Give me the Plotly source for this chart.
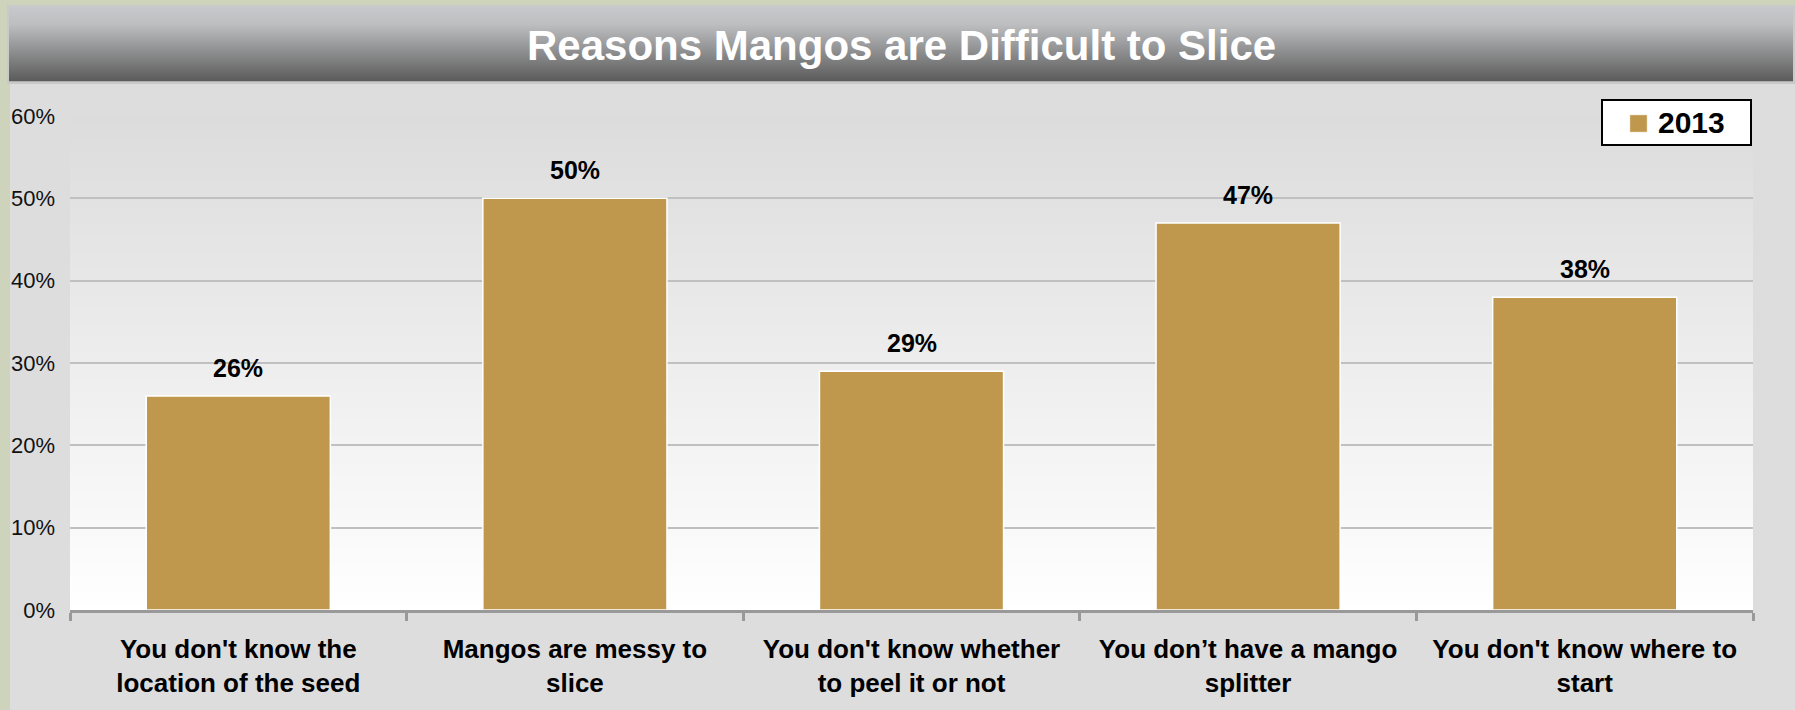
import plotly.graph_objects as go

# ---- data ----
categories = [
    "You don't know the<br>location of the seed",
    "Mangos are messy to<br>slice",
    "You don't know whether<br>to peel it or not",
    "You don\u2019t have a mango<br>splitter",
    "You don't know where to<br>start",
]
values_2013 = [26, 50, 29, 47, 38]
series_name = "2013"
title_text = "Reasons Mangos are Difficult to Slice"
y_ticks = [0, 10, 20, 30, 40, 50, 60]
y_tick_labels = [f"{v}%" for v in y_ticks]

# ---- geometry (pixels) ----
W, H = 1795, 710
L, R, T, B = 70, 1753, 116, 610
PW, PH = R - L, B - T


def xp(px):
    return (px - L) / PW


def yp(py):
    return (B - py) / PH


def lerp_color(c1, c2, t):
    a = [int(c1[i:i + 2], 16) for i in (1, 3, 5)]
    b = [int(c2[i:i + 2], 16) for i in (1, 3, 5)]
    return "rgb(%d,%d,%d)" % tuple(round(a[k] + (b[k] - a[k]) * t) for k in range(3))


FONT = "Arial, Liberation Sans, sans-serif"
BAR = "#BF984E"

shapes = []
# green frame strips
shapes.append(dict(type="rect", xref="paper", yref="paper", x0=xp(0), x1=xp(W), y0=yp(0), y1=yp(6),
                   fillcolor="#CED4BC", line_width=0, layer="below"))
shapes.append(dict(type="rect", xref="paper", yref="paper", x0=xp(0), x1=xp(10), y0=yp(0), y1=yp(H),
                   fillcolor="#CED4BC", line_width=0, layer="below"))
# title band border
shapes.append(dict(type="rect", xref="paper", yref="paper", x0=xp(7), x1=xp(1795), y0=yp(5), y1=yp(84),
                   fillcolor="#C9C9C9", line_width=0, layer="below"))
# title band gradient
stops = [(7, "#C7C8CB"), (24, "#BDBEC0"), (81, "#5A5A5A")]
for py in range(7, 81):
    for (a, ca), (b, cb) in zip(stops[:-1], stops[1:]):
        if a <= py < b:
            col = lerp_color(ca, cb, (py - a) / (b - a))
            break
    shapes.append(dict(type="rect", xref="paper", yref="paper", x0=xp(9), x1=xp(1793),
                       y0=yp(py), y1=yp(py + 1.2), fillcolor=col, line_width=0, layer="below"))
# plot-area gradient
step = 4
for py in range(T, B, step):
    col = lerp_color("#DCDCDC", "#FFFFFF", (py - T) / PH)
    shapes.append(dict(type="rect", xref="paper", yref="paper", x0=0, x1=1,
                       y0=yp(py), y1=yp(min(py + step + 0.5, B)), fillcolor=col, line_width=0, layer="below"))

# legend box (drawn manually to match the reference proportions)
shapes.append(dict(type="rect", xref="paper", yref="paper", x0=xp(1602), x1=xp(1751), y0=yp(100), y1=yp(145),
                   fillcolor="white", line=dict(color="black", width=2), layer="above"))
shapes.append(dict(type="rect", xref="paper", yref="paper", x0=xp(1630), x1=xp(1647), y0=yp(115), y1=yp(132),
                   fillcolor=BAR, line=dict(color="#E8D7B0", width=0.5), layer="above"))

fig = go.Figure()
fig.add_trace(go.Bar(
    x=categories, y=values_2013, name=series_name, showlegend=False,
    marker=dict(color=BAR, line=dict(color="white", width=1.5)),
))

annotations = []
for c, v in zip(categories, values_2013):
    annotations.append(dict(x=c, y=v, xref="x", yref="y", text=f"<b>{v}%</b>", showarrow=False,
                            yanchor="middle", yshift=28, font=dict(family=FONT, size=25, color="black")))
annotations.append(dict(xref="paper", yref="paper", x=xp(901), y=yp(45), text=f"<b>{title_text}</b>",
                        showarrow=False, xanchor="center", yanchor="middle",
                        font=dict(family=FONT, size=42, color="white")))
annotations.append(dict(xref="paper", yref="paper", x=xp(1656), y=yp(123), text=f"<b>{series_name}</b>",
                        showarrow=False, xanchor="left", yanchor="middle",
                        font=dict(family=FONT, size=30, color="black")))

fig.update_layout(
    width=W, height=H,
    margin=dict(l=L, r=W - R, t=T, b=H - B),
    paper_bgcolor="#DDDDDD",
    plot_bgcolor="rgba(0,0,0,0)",
    bargap=0.453,
    shapes=shapes,
    annotations=annotations,
    showlegend=False,
    xaxis=dict(type="category", tickson="boundaries", ticks="outside", ticklen=8, tickwidth=3,
               tickcolor="#999999", showline=True, linecolor="#999999", linewidth=3,
               showgrid=False, ticklabelstandoff=14,
               tickfont=dict(family=FONT, size=26, color="black", weight="bold")),
    yaxis=dict(range=[0, 60], tickvals=y_ticks, ticktext=y_tick_labels, showgrid=True,
               gridcolor="#C0C0C0", gridwidth=1.5, zeroline=False, showline=False,
               ticks="", ticklabelstandoff=14,
               tickfont=dict(family=FONT, size=22, color="#111111")),
)

fig.write_html("out.html")
